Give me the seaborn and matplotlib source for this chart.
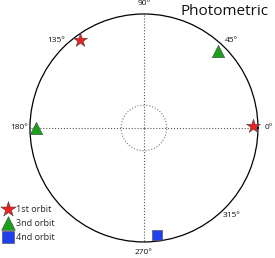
import numpy as np
import pandas as pd
import matplotlib
matplotlib.use("Agg")
import matplotlib.pyplot as plt
import seaborn as sns

# Data (angle in degrees, radius 0..1)
orbits = ["1st orbit", "1st orbit", "3nd orbit", "3nd orbit", "4nd orbit"]
angles = [126, 1, 46, 180, 277]
radius = [0.95, 0.96, 0.94, 0.95, 0.95]

tick_deg = [0, 45, 90, 135, 180, 270, 315]
tick_lab = ["0°", "45°", "90°", "135°", "180°", "270°", "315°"]

df = pd.DataFrame({"orbit": orbits, "theta": np.deg2rad(angles), "r": radius})

sns.set_style("white")
plt.rcParams['font.family'] = ['Open Sans', 'DejaVu Sans']

fig = plt.figure(figsize=(2.75, 2.58), dpi=100)
ax = fig.add_axes([0.109, 0.062, 0.829, 0.884], projection="polar")

palette = {"1st orbit": "#ee2020", "3nd orbit": "#1aa01a", "4nd orbit": "#2040f0"}
markers = {"1st orbit": "*", "3nd orbit": "^", "4nd orbit": "s"}
sizes = {"1st orbit": 110, "3nd orbit": 80, "4nd orbit": 60}

for name in ["1st orbit", "3nd orbit", "4nd orbit"]:
    sub = df[df.orbit == name]
    sns.scatterplot(data=sub, x="theta", y="r", ax=ax, color=palette[name],
                    marker=markers[name], s=sizes[name], edgecolor="#444444",
                    linewidth=0.4, label=name, zorder=5, clip_on=False)

ax.set_ylim(0, 1)
ax.set_rticks([0.2])
ax.set_yticklabels([])
ax.set_thetagrids(tick_deg, tick_lab, fontsize=6, color="#111111")
ax.tick_params(axis="x", pad=-3)
for i, gl in enumerate(ax.xaxis.get_gridlines()):
    if tick_deg[i] % 90 != 0:
        gl.set_visible(False)
    else:
        gl.set_linestyle(":")
        gl.set_color("#555555")
        gl.set_linewidth(0.8)
for gl in ax.yaxis.get_gridlines():
    gl.set_linestyle(":")
    gl.set_color("#777777")
    gl.set_linewidth(0.8)
ax.spines["polar"].set_linewidth(0.9)
ax.spines["polar"].set_color("black")
ax.set_xlabel("")
ax.set_ylabel("")

leg = ax.legend(loc="lower left", bbox_to_anchor=(-0.13, -0.015), bbox_transform=ax.transAxes,
                frameon=False, fontsize=6.5, handletextpad=0.35, labelspacing=0.55,
                borderaxespad=0, handlelength=1.0, markerscale=1.1)

fig.text(0.975, 0.985, "Photometric", ha="right", va="top", fontsize=11, color="#111111")

fig.savefig("out.png", dpi=100)
